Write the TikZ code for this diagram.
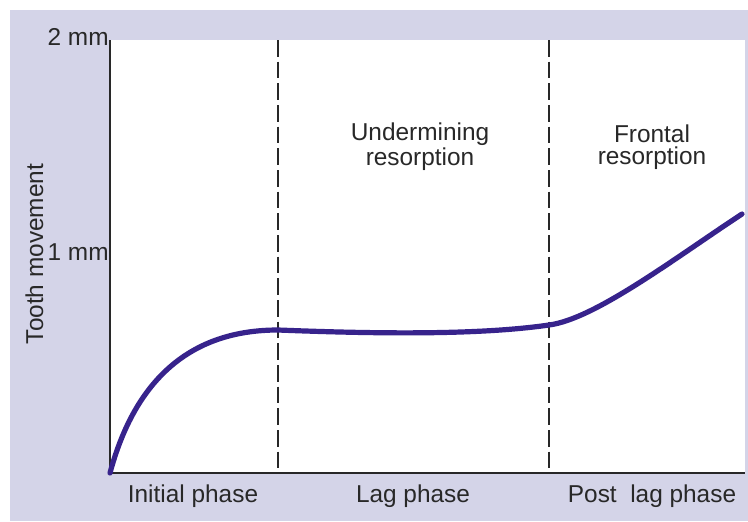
\documentclass[tikz,border=0pt]{standalone}
\usepackage{fontspec}
\setmainfont{Liberation Sans}
\usepackage{tikz}
\usetikzlibrary{positioning}

\definecolor{lavender}{RGB}{212,212,232}
\definecolor{curvecol}{RGB}{55,35,140}
\definecolor{inkgray}{RGB}{40,40,40}

\begin{document}
\begin{tikzpicture}[x=0.75pt,y=-0.75pt,semithick]
	\tikzstyle{axis}=[draw=inkgray,line width=1.5pt]
	\tikzstyle{divider}=[draw=inkgray,line width=2.2pt,dash pattern=on 12.5pt off 3.75pt]
	\tikzstyle{response}=[draw=curvecol,line width=3.9pt,line cap=round]
	\tikzstyle{txt}=[text=inkgray,inner sep=0pt,font=\fontsize{18.3}{16.5}\selectfont]

  \useasboundingbox (0,0) rectangle (748,521);
  \fill[lavender] (10,10) rectangle (748,521);
  \fill[white] (110,40) rectangle (745,473);

  \coordinate (O)    at (110,473);
  \coordinate (ytop) at (110,40);
  \coordinate (xend) at (745,473);
  \coordinate (d1t)  at (278,40);
  \coordinate (d1b)  at (278,473);
  \coordinate (d2t)  at (549,40);
  \coordinate (d2b)  at (549,473);
  \coordinate (P1)   at (278,330);
  \coordinate (P2)   at (549,325);
  \coordinate (P3)   at (742,214);

  \draw[divider] (d1t) -- (d1b);
  \draw[divider] (d2t) -- (d2b);
  \draw[axis] (ytop) -- (O) -- (xend);

  \draw[response] (O) .. controls (135,380) and (190,330) .. (P1)
                       .. controls (380,334) and (480,335) .. (P2)
                       .. controls (595,319) and (675,258) .. (P3);

  \node[txt,anchor=base east] (mm2) at (109,45)  {2 mm};
  \node[txt,anchor=base east] (mm1) at (109,260) {1 mm};
  \node[txt,anchor=base,rotate=90] (ylab) at (43,254) {Tooth movement};

  \node[txt,anchor=base] (initial) at (193,502) {Initial phase};
  \node[txt,anchor=base] (lag)     at (413,502) {Lag phase};
  \node[txt,anchor=base] (post)    at (652,502) {Post\ \ lag phase};

  % last line sits on the given baseline
  \node[txt,anchor=base,align=center] (under) at (420,165) {Undermining\\resorption};
  \node[txt,anchor=base,align=center] (front) at (652,164) {Frontal\\resorption};

\end{tikzpicture}
\end{document}
